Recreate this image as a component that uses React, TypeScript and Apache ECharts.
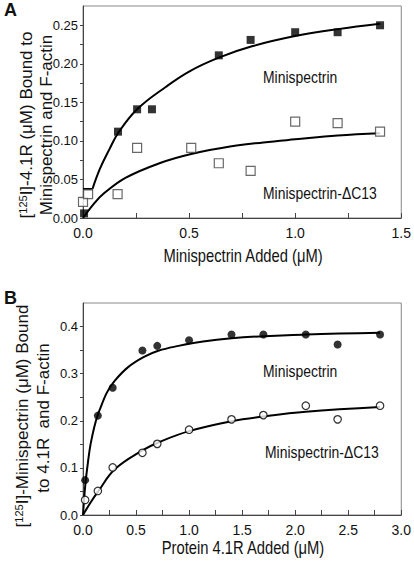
import React, { useEffect, useRef } from "react";
import * as echarts from "echarts";

const SANS = "'Liberation Sans', Arial, sans-serif";

// ---------- Panel A ----------
const aXTicks = [0, 0.25, 0.5, 0.75, 1.0, 1.25, 1.5];
const aXLabels = [0, 0.5, 1.0, 1.5];
const aYTicks = [0, 0.025, 0.05, 0.075, 0.1, 0.125, 0.15, 0.175, 0.2, 0.225, 0.25];
const aYLabels = [0, 0.05, 0.1, 0.15, 0.2, 0.25];

const aMiniX = [0.005, 0.165, 0.255, 0.325, 0.64, 0.79, 1.0, 1.2, 1.4];
const aMiniY = [0.006, 0.112, 0.141, 0.141, 0.211, 0.231, 0.241, 0.241, 0.25];
const aDeltaX = [0.0, 0.024, 0.163, 0.255, 0.51, 0.64, 0.79, 1.0, 1.2, 1.4];
const aDeltaY = [0.021, 0.031, 0.031, 0.091, 0.091, 0.071, 0.061, 0.125, 0.123, 0.112];

const aFitMiniStartX = [0, 0.045];
const aFitMiniStartY = [0.037, 0.037];
const aFitMiniX = [0.045, 0.08, 0.126, 0.165, 0.255, 0.39, 0.5, 0.64, 0.8, 1.0, 1.2, 1.4];
const aFitMiniY = [0.038, 0.064, 0.09, 0.11, 0.141, 0.17, 0.19, 0.208, 0.223, 0.236, 0.245, 0.252];
const aFitDeltaX = [0, 0.05, 0.095, 0.2, 0.36, 0.51, 0.7, 0.85, 1.0, 1.2, 1.4];
const aFitDeltaY = [0, 0.018, 0.031, 0.052, 0.071, 0.083, 0.093, 0.098, 0.102, 0.107, 0.11];

// ---------- Panel B ----------
const bXTicks = [0, 0.25, 0.5, 0.75, 1.0, 1.25, 1.5, 1.75, 2.0, 2.25, 2.5, 2.75, 3.0];
const bXLabels = [0, 0.5, 1.0, 1.5, 2.0, 2.5, 3.0];
const bYTicks = [0, 0.05, 0.1, 0.15, 0.2, 0.25, 0.3, 0.35, 0.4];
const bYLabels = [0, 0.1, 0.2, 0.3, 0.4];

const bX = [0.02, 0.14, 0.28, 0.56, 0.7, 1.0, 1.4, 1.7, 2.1, 2.4, 2.8];
const bMiniY = [0.074, 0.211, 0.27, 0.349, 0.359, 0.371, 0.383, 0.383, 0.383, 0.362, 0.383];
const bDeltaY = [0.032, 0.051, 0.101, 0.132, 0.151, 0.181, 0.203, 0.212, 0.232, 0.203, 0.232];

const bFitMiniX = [0, 0.02, 0.04, 0.08, 0.155, 0.3, 0.57, 0.9, 1.4, 2.1, 2.8];
const bFitMiniY = [0, 0.06, 0.1, 0.16, 0.222, 0.285, 0.335, 0.359, 0.375, 0.383, 0.387];
const bFitDeltaX = [0, 0.07, 0.143, 0.3, 0.56, 0.72, 1.0, 1.4, 1.7, 2.1, 2.8];
const bFitDeltaY = [0, 0.026, 0.05, 0.097, 0.137, 0.155, 0.178, 0.199, 0.209, 0.219, 0.229];

const zip = (xs: number[], ys: number[]) => xs.map((x, i) => [x, ys[i]]);

const AXIS_COLOR = "#444";
const TEXT_COLOR = "#111";

function xAxisCfg(gridIndex: number, max: number, ticks: number[], labels: number[]) {
  return {
    type: "value",
    gridIndex,
    min: 0,
    max,
    interval: 0.25,
    axisLine: { show: true, onZero: false, lineStyle: { color: AXIS_COLOR, width: 1 } },
    axisTick: { show: true, inside: true, length: 5, customValues: ticks, lineStyle: { color: AXIS_COLOR } },
    axisLabel: {
      customValues: labels,
      formatter: (v: number) => v.toFixed(1),
      fontFamily: SANS,
      fontSize: 14,
      color: TEXT_COLOR,
      margin: 8,
    },
    splitLine: { show: false },
  };
}

function yAxisCfg(gridIndex: number, max: number, ticks: number[], labels: number[], digits: number) {
  return {
    type: "value",
    gridIndex,
    min: 0,
    max,
    interval: 0.05,
    axisLine: { show: true, onZero: false, lineStyle: { color: AXIS_COLOR, width: 1 } },
    axisTick: { show: true, inside: false, length: 3, customValues: ticks, lineStyle: { color: AXIS_COLOR } },
    axisLabel: {
      customValues: labels,
      formatter: (v: number) => v.toFixed(digits),
      fontFamily: SANS,
      fontSize: 13,
      color: TEXT_COLOR,
      margin: 5,
    },
    splitLine: { show: false },
  };
}

function lineSeries(xi: number, data: number[][], width = 2, smooth: number | boolean = 0.4) {
  return {
    type: "line",
    xAxisIndex: xi,
    yAxisIndex: xi,
    data,
    smooth,
    showSymbol: false,
    symbol: "none",
    lineStyle: { color: "#000", width },
    silent: true,
    z: 2,
  };
}

function scatterSeries(xi: number, data: number[][], symbol: string, size: number, filled: boolean, border = "#000") {
  return {
    type: "scatter",
    xAxisIndex: xi,
    yAxisIndex: xi,
    data,
    symbol,
    symbolSize: size,
    itemStyle: filled
      ? { color: "#000", borderColor: "#000", borderWidth: 0 }
      : { color: "#fff", borderColor: border, borderWidth: 1.2 },
    z: 3,
  };
}

function txt(text: string, x: number, y: number, extra: any = {}, scaleX = 0.82) {
  return {
    type: "text",
    x,
    y,
    scaleX,
    z: 10,
    style: {
      text,
      fontFamily: SANS,
      fontSize: 17,
      fill: TEXT_COLOR,
      align: "left",
      verticalAlign: "middle",
      ...extra,
    },
  };
}

function rotTxt(text: string, x: number, y: number, rich: boolean) {
  const style: any = {
    text,
    fontFamily: SANS,
    fontSize: 17,
    fill: TEXT_COLOR,
    align: "center",
    verticalAlign: "middle",
  };
  if (rich) {
    style.rich = {
      sup: { fontFamily: SANS, fontSize: 11, fill: TEXT_COLOR, verticalAlign: "top", padding: [0, 0, 6, 0] },
    };
  }
  return { type: "text", x, y, rotation: Math.PI / 2, z: 10, style };
}

export default function App() {
  const ref = useRef<HTMLDivElement>(null);

  useEffect(() => {
    if (!ref.current) return;
    const chart = echarts.init(ref.current, null, { renderer: "svg" });
    const option: any = {
      animation: false,
      backgroundColor: "#fff",
      grid: [
        { left: 83, top: 6, width: 320, height: 212, show: true, borderColor: "#888", borderWidth: 1, backgroundColor: "transparent" },
        { left: 83, top: 303, width: 320, height: 212, show: true, borderColor: "#888", borderWidth: 1, backgroundColor: "transparent" },
      ],
      xAxis: [xAxisCfg(0, 1.5, aXTicks, aXLabels), xAxisCfg(1, 3.0, bXTicks, bXLabels)],
      yAxis: [yAxisCfg(0, 0.275, aYTicks, aYLabels, 2), yAxisCfg(1, 0.45, bYTicks, bYLabels, 1)],
      series: [
        lineSeries(0, zip(aFitMiniStartX, aFitMiniStartY), 3, false),
        lineSeries(0, zip(aFitMiniX, aFitMiniY), 2),
        lineSeries(0, zip(aFitDeltaX, aFitDeltaY), 2),
        scatterSeries(0, zip(aDeltaX, aDeltaY), "rect", 9, false, "#444"),
        scatterSeries(0, zip(aMiniX, aMiniY), "rect", 8, true),
        lineSeries(1, zip(bFitMiniX, bFitMiniY), 2),
        lineSeries(1, zip(bFitDeltaX, bFitDeltaY), 2),
        scatterSeries(1, zip(bX, bDeltaY), "circle", 7.5, false),
        scatterSeries(1, zip(bX, bMiniY), "circle", 8, true),
      ],
      graphic: [
        txt("A", 4, 10, { fontWeight: "bold", fontSize: 18 }, 1),
        txt("B", 4, 298, { fontWeight: "bold", fontSize: 18 }, 1),
        rotTxt("[{sup|125}I]-4.1R (μM) Bound to", 26, 125, true),
        rotTxt("Minispectrin and F-actin", 46, 125, false),
        rotTxt("[{sup|125}I]-Minispectrin (μM) Bound", 22, 416, true),
        rotTxt("to 4.1R  and F-actin", 43, 418, false),
        txt("Minispectrin Added (μM)", 243, 255, { align: "center", fontSize: 18 }),
        txt("Protein 4.1R Added (μM)", 243, 547, { align: "center", fontSize: 18 }),
        txt("Minispectrin", 263, 77),
        txt("Minispectrin-ΔC13", 263, 193),
        txt("Minispectrin", 263, 371),
        txt("Minispectrin-ΔC13", 265, 452),
      ],
    };
    chart.setOption(option);
    return () => chart.dispose();
  }, []);

  return (
    <div
      ref={ref}
      style={{ position: "absolute", left: 0, top: 0, width: 414, height: 564, background: "#fff" }}
    />
  );
}
